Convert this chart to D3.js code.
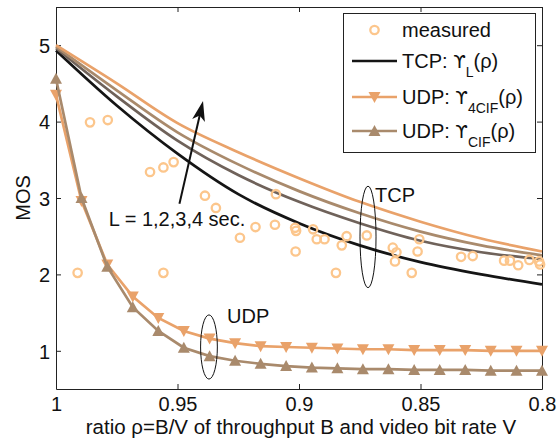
<!DOCTYPE html>
<html>
<head>
<meta charset="utf-8">
<script src="https://cdn.jsdelivr.net/npm/d3@7/dist/d3.min.js"></script>
<style>
  body { margin: 0; background: #fff; }
  text { font-family: "Liberation Sans", Arial, Helvetica, sans-serif; }
</style>
</head>
<body>
<div class="mos"></div>
<script>
// TCP model curves, one per buffer length L = 1..4 sec
var rhoTcp = [1, 0.975, 0.95, 0.925, 0.9, 0.875, 0.85, 0.825, 0.8];
var tcpL1 = [4.93, 4.21, 3.58, 3.05, 2.67, 2.38, 2.16, 2.00, 1.87];
var tcpL2 = [4.96, 4.33, 3.75, 3.30, 2.95, 2.67, 2.44, 2.29, 2.20];
var tcpL3 = [4.98, 4.41, 3.86, 3.44, 3.09, 2.80, 2.56, 2.38, 2.25];
var tcpL4 = [5.00, 4.50, 3.98, 3.60, 3.26, 2.95, 2.69, 2.47, 2.30];

// UDP model, 20 sample points
var rhoUdp = [1, 0.9895, 0.9789, 0.9684, 0.9579, 0.9474, 0.9368, 0.9263, 0.9158, 0.9053,
              0.8947, 0.8842, 0.8737, 0.8632, 0.8526, 0.8421, 0.8316, 0.8211, 0.8105, 0.8];
var udp4cif = [4.35, 2.96, 2.13, 1.71, 1.43, 1.26, 1.16, 1.10, 1.06, 1.05,
               1.04, 1.03, 1.02, 1.02, 1.01, 1.01, 1.01, 1.00, 1.00, 1.00];
var udpCif = [4.56, 3.00, 2.10, 1.57, 1.26, 1.04, 0.93, 0.87, 0.83, 0.80,
              0.78, 0.77, 0.76, 0.76, 0.75, 0.75, 0.75, 0.74, 0.74, 0.74];

// measured MOS values
var measRho = [0.9911, 0.986, 0.9787, 0.9613, 0.9558, 0.9516, 0.9558, 0.9387, 0.9342, 0.9243,
               0.9179, 0.9099, 0.9095, 0.9016, 0.9012, 0.9014, 0.8942, 0.8927, 0.8895, 0.8824,
               0.8804, 0.8848, 0.8721, 0.8614, 0.8599, 0.8605, 0.8505, 0.8512, 0.8536, 0.8333,
               0.8285, 0.8156, 0.8132, 0.8098, 0.8052, 0.8012, 0.8008];
var measMos = [2.02, 3.99, 4.02, 3.34, 3.40, 3.47, 2.02, 3.03, 2.87, 2.48,
               2.62, 2.65, 3.05, 2.61, 2.57, 2.30, 2.59, 2.46, 2.46, 2.38,
               2.50, 2.02, 2.51, 2.35, 2.29, 2.17, 2.46, 2.30, 2.02, 2.23,
               2.24, 2.18, 2.18, 2.12, 2.19, 2.17, 2.13];

var xTicks = [1, 0.95, 0.9, 0.85, 0.8];
var yTicks = [1, 2, 3, 4, 5];

var cOrange = '#e9a26a', cTan = '#a98a6c', cGray = '#6f625a', cBlack = '#151515', cMeas = '#fcc68c';

var margin = {top: 7, right: 16, bottom: 52, left: 56},
    width = 558 - margin.left - margin.right,
    height = 441 - margin.top - margin.bottom;

var svg = d3.select('.mos')
  .append('svg')
    .attr('width', width + margin.left + margin.right)
    .attr('height', height + margin.top + margin.bottom)
  .append('g')
    .attr('transform', 'translate(' + margin.left + ',' + margin.top + ')');

var x = d3.scaleLinear().domain([1, 0.8]).range([0, width]);
var y = d3.scaleLinear().domain([0.5, 5.5]).range([height, 0]);

// axes, ticks pointing inward on all four sides
function styleAxis(g) {
  g.selectAll('path').attr('stroke', '#222').attr('stroke-width', 1);
  g.selectAll('line').attr('stroke', '#222');
  g.selectAll('text').attr('font-size', '20px').attr('fill', '#111')
    .attr('font-family', '"Liberation Sans", Arial, sans-serif');
}
svg.append('g')
  .attr('transform', 'translate(0,' + height + ')')
  .call(d3.axisBottom(x).tickValues(xTicks).tickFormat(d => String(d)).tickSizeInner(-5).tickSizeOuter(0).tickPadding(8))
  .call(styleAxis);
svg.append('g')
  .call(d3.axisLeft(y).tickValues(yTicks).tickFormat(d => String(d)).tickSizeInner(-5).tickSizeOuter(0).tickPadding(6))
  .call(styleAxis)
  .selectAll('text').attr('dy', '0.36em');
svg.append('g')
  .call(d3.axisTop(x).tickValues(xTicks).tickFormat('').tickSizeInner(-5).tickSizeOuter(0))
  .call(styleAxis);
svg.append('g')
  .attr('transform', 'translate(' + width + ',0)')
  .call(d3.axisRight(y).tickValues(yTicks).tickFormat('').tickSizeInner(-5).tickSizeOuter(0))
  .call(styleAxis);

svg.append('text')
  .attr('x', width / 2 + 2)
  .attr('y', height + 45)
  .attr('font-size', '20.5px')
  .attr('fill', '#111')
  .style('text-anchor', 'middle')
  .text('ratio ρ=B/V of throughput B and video bit rate V');

svg.append('text')
  .attr('transform', 'translate(-26,' + (height / 2) + ') rotate(-90)')
  .attr('font-size', '20px')
  .attr('fill', '#111')
  .style('text-anchor', 'middle')
  .text('MOS');

var plot = svg.append('g');

// TCP curves
var smooth = d3.line().x(d => x(d[0])).y(d => y(d[1])).curve(d3.curveMonotoneX);
var tcp = [[tcpL1, cBlack], [tcpL2, cGray], [tcpL3, cTan], [tcpL4, cOrange]];
tcp.forEach(function (t) {
  plot.append('path')
    .datum(rhoTcp.map((r, i) => [r, t[0][i]]))
    .attr('fill', 'none')
    .attr('stroke', t[1])
    .attr('stroke-width', 2.7)
    .attr('d', smooth);
});

// UDP curves with triangle markers
var straight = d3.line().x(d => x(d[0])).y(d => y(d[1]));
var triDown = 'M-6,-5L6,-5L0,6Z', triUp = 'M-6,5L6,5L0,-6Z';
[[udp4cif, cOrange, triDown], [udpCif, cTan, triUp]].forEach(function (u) {
  var pts = rhoUdp.map((r, i) => [r, u[0][i]]);
  plot.append('path')
    .datum(pts)
    .attr('fill', 'none')
    .attr('stroke', u[1])
    .attr('stroke-width', 2.7)
    .attr('d', straight);
  plot.selectAll(null)
    .data(pts)
    .enter().append('path')
    .attr('d', u[2])
    .attr('fill', u[1])
    .attr('transform', d => 'translate(' + x(d[0]) + ',' + y(d[1]) + ')');
});

// measured points
plot.selectAll('circle.meas')
  .data(measRho.map((r, i) => [r, measMos[i]]))
  .enter().append('circle')
  .attr('class', 'meas')
  .attr('cx', d => x(d[0]))
  .attr('cy', d => y(d[1]))
  .attr('r', 4.2)
  .attr('fill', 'none')
  .attr('stroke', cMeas)
  .attr('stroke-width', 2.3);

// annotations
function ellipse(r0, r1, v0, v1) {
  svg.append('ellipse')
    .attr('cx', (x(r0) + x(r1)) / 2)
    .attr('cy', (y(v0) + y(v1)) / 2)
    .attr('rx', Math.abs(x(r1) - x(r0)) / 2)
    .attr('ry', Math.abs(y(v1) - y(v0)) / 2)
    .attr('fill', 'none')
    .attr('stroke', '#111')
    .attr('stroke-width', 1);
}
ellipse(0.8749, 0.8683, 3.155, 1.826);
ellipse(0.9405, 0.9336, 1.47, 0.63);

svg.append('text').attr('x', x(0.8687)).attr('y', y(2.95))
  .attr('font-size', '20px').attr('fill', '#111').text('TCP');
svg.append('text').attr('x', x(0.9296)).attr('y', y(1.37))
  .attr('font-size', '20px').attr('fill', '#111').text('UDP');
svg.append('text').attr('x', x(0.9783)).attr('y', y(2.63))
  .attr('font-size', '20px').attr('fill', '#111').text('L = 1,2,3,4 sec.');

// arrow across the TCP curves
var ax0 = x(0.9492), ay0 = y(2.925), ax1 = x(0.9395), ay1 = y(4.27);
var ang = Math.atan2(ay1 - ay0, ax1 - ax0) * 180 / Math.PI;
svg.append('line')
  .attr('x1', ax0).attr('y1', ay0)
  .attr('x2', ax0 + (ax1 - ax0) * 0.9).attr('y2', ay0 + (ay1 - ay0) * 0.9)
  .attr('stroke', '#111')
  .attr('stroke-width', 2);
svg.append('path')
  .attr('d', 'M0,0L-20,-6.5L-15,0L-20,6.5Z')
  .attr('fill', '#111')
  .attr('transform', 'translate(' + ax1 + ',' + ay1 + ') rotate(' + ang + ')');

// legend
var lg = d3.select('svg').append('g');
lg.append('rect')
  .attr('x', 343.5).attr('y', 13.5).attr('width', 192).attr('height', 139)
  .attr('fill', '#fff').attr('stroke', '#222').attr('stroke-width', 1);
var rows = [
  {y: 30, main: 'measured', sub: null, tail: null},
  {y: 61, main: 'TCP: ', sub: 'L', tail: '(ρ)', color: cBlack},
  {y: 97, main: 'UDP: ', sub: '4CIF', tail: '(ρ)', color: cOrange, mark: triDown},
  {y: 131, main: 'UDP: ', sub: 'CIF', tail: '(ρ)', color: cTan, mark: triUp}
];
rows.forEach(function (r, i) {
  if (i === 0) {
    lg.append('circle').attr('cx', 374.5).attr('cy', r.y).attr('r', 4.2)
      .attr('fill', 'none').attr('stroke', cMeas).attr('stroke-width', 2.3);
  } else {
    lg.append('line').attr('x1', 352).attr('x2', 397).attr('y1', r.y).attr('y2', r.y)
      .attr('stroke', r.color).attr('stroke-width', 2.7);
    if (r.mark) {
      lg.append('path').attr('d', r.mark).attr('fill', r.color)
        .attr('transform', 'translate(374.5,' + r.y + ')');
    }
  }
  var t = lg.append('text').attr('x', 402).attr('y', r.y + 7)
    .attr('font-size', '20px').attr('fill', '#111')
    .style('white-space', 'pre').text(r.main);
  if (r.sub) {
    // upsilon with hook, drawn from DejaVu which carries the curled glyph
    t.append('tspan').attr('font-family', '"DejaVu Sans", sans-serif').attr('font-size', '18px').text('ϒ');
    t.append('tspan').attr('dy', 9).attr('font-size', '14px').text(r.sub);
    t.append('tspan').attr('dy', -9).text(r.tail);
  }
});
</script>
</body>
</html>
